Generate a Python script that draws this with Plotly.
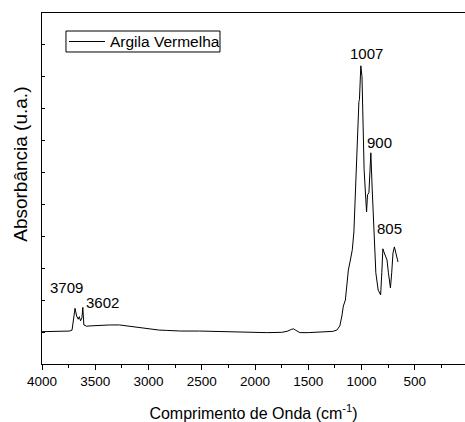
import plotly.graph_objects as go

# Wavenumber (cm-1) and absorbance (a.u.)
wavenumber = [4000, 3900, 3800, 3740, 3718, 3705, 3690, 3675, 3660, 3650, 3638, 3625,
              3617, 3607, 3580, 3550, 3450, 3366, 3272, 3150, 3050, 2990, 2900, 2830,
              2700, 2520, 2300, 2100, 1890, 1750, 1700, 1660, 1640, 1620, 1580, 1500,
              1400, 1300, 1270, 1232, 1204, 1185, 1171, 1152, 1138, 1124, 1105, 1087,
              1072, 1054, 1038, 1025, 1020, 1011, 1007, 996, 976, 960, 953, 944, 931,
              922, 913, 900, 884, 866, 844, 821, 810, 800, 790, 776, 761, 748, 729,
              717, 705, 692, 680, 658]
absorbance = [1.01, 1.02, 1.01, 1.03, 1.06, 1.45, 1.74, 1.50, 1.40, 1.48, 1.35, 1.45,
              1.77, 1.22, 1.18, 1.19, 1.21, 1.22, 1.22, 1.17, 1.12, 1.09, 1.06, 1.05,
              1.03, 1.03, 1.01, 0.99, 0.98, 0.99, 1.02, 1.08, 1.10, 1.06, 0.98, 0.98,
              0.99, 1.01, 1.02, 1.06, 1.19, 1.50, 1.81, 2.00, 2.38, 2.94, 3.25, 3.57,
              4.13, 5.76, 7.54, 8.20, 8.26, 9.29, 9.32, 8.98, 6.07, 5.13, 4.75, 5.29, 5.35,
              5.97, 6.60, 5.44, 3.97, 2.85, 2.31, 2.16, 2.85, 3.60, 3.50, 3.35, 3.25, 2.85,
              2.38, 2.85, 3.47, 3.66, 3.47, 3.19]

peak_labels = ["1007", "900", "805", "3709", "3602"]
peak_label_x = [955, 828, 741, 3770, 3429]
peak_label_y = [9.71, 6.93, 4.22, 2.39, 1.91]

series_name = "Argila Vermelha"
x_tick_vals = [4000, 3500, 3000, 2500, 2000, 1500, 1000, 500]

FONT = "Liberation Sans, Arial, sans-serif"

fig = go.Figure()
fig.add_trace(go.Scatter(x=wavenumber, y=absorbance, mode="lines",
                         line=dict(color="black", width=1), name=series_name,
                         showlegend=False))

for t, x, y in zip(peak_labels, peak_label_x, peak_label_y):
    fig.add_annotation(x=x, y=y, text=t, showarrow=False, xref="x", yref="y",
                       font=dict(family=FONT, size=15, color="black"))

# Y-axis title
fig.add_annotation(x=-0.05, y=0.57, xref="paper", yref="paper", text="Absorbância (u.a.)",
                   textangle=-90, showarrow=False, xanchor="center", yanchor="middle",
                   font=dict(family=FONT, size=19, color="black"))

# Legend box (drawn to match the compact framed legend of the reference)
fig.add_shape(type="rect", xref="paper", yref="paper", x0=0.0567, x1=0.4208,
              y0=0.8889, y1=0.9487, line=dict(color="black", width=1), fillcolor="white")
fig.add_shape(type="line", xref="paper", yref="paper", x0=0.0638, x1=0.1489,
              y0=0.9188, y1=0.9188, line=dict(color="black", width=1))
fig.add_annotation(x=0.156, y=0.9188, xref="paper", yref="paper", text=series_name,
                   showarrow=False, xanchor="left", yanchor="middle",
                   font=dict(family=FONT, size=15.5, color="black"))

fig.update_layout(
    width=465, height=422,
    margin=dict(l=42, r=0, t=13, b=58),
    paper_bgcolor="white", plot_bgcolor="white",
    font=dict(family=FONT, color="black"),
    showlegend=False,
    xaxis=dict(range=[4000, 29], tickvals=x_tick_vals, ticks="outside", ticklen=5,
               tickwidth=1, tickcolor="black", showline=True, linecolor="black",
               linewidth=1, mirror=True, showgrid=False, zeroline=False,
               tickfont=dict(family=FONT, size=13.5, color="black"),
               minor=dict(dtick=250, tick0=0, ticks="outside", ticklen=3, tickcolor="black"),
               title=dict(text="Comprimento de Onda (cm<sup>-1</sup>)",
                          font=dict(family=FONT, size=16, color="black"), standoff=20)),
    yaxis=dict(range=[0, 10.97], dtick=1, tick0=0, ticks="inside", ticklen=3,
               tickcolor="black", showticklabels=False, showline=True, linecolor="black",
               linewidth=1, mirror=False, showgrid=False, zeroline=False),
)

fig.write_html("out.html")
